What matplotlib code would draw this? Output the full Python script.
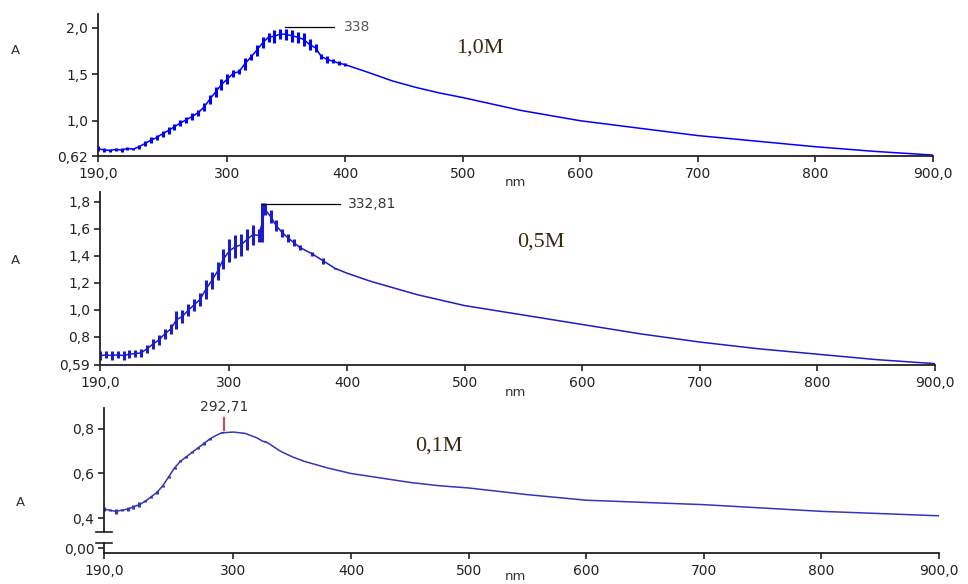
import numpy as np
import matplotlib.pyplot as plt

# ---- data (nm, lower / upper edge of the trace) ----
nm_1 = [190, 195, 200, 205, 210, 215, 220, 225, 230, 235, 240, 245, 250, 255,
        260, 265, 270, 275, 280, 285, 290, 295, 300, 305, 310, 315, 320, 325,
        330, 335, 340, 345, 350, 355, 360, 365, 370, 375, 380, 385, 390, 395,
        400, 420, 440, 460, 480, 500, 550, 600, 650, 700, 750, 800, 850, 900]
lo_1 = [0.67, 0.66, 0.66, 0.67, 0.66, 0.68, 0.68, 0.70, 0.73, 0.76, 0.79, 0.83,
        0.86, 0.90, 0.94, 0.98, 1.01, 1.05, 1.10, 1.18, 1.26, 1.33, 1.40, 1.47,
        1.50, 1.55, 1.65, 1.70, 1.78, 1.85, 1.84, 1.88, 1.87, 1.85, 1.84, 1.80,
        1.76, 1.74, 1.66, 1.62, 1.62, 1.60, 1.59, 1.52, 1.43, 1.36, 1.30, 1.25,
        1.11, 1.00, 0.92, 0.84, 0.78, 0.72, 0.67, 0.63]
hi_1 = [0.73, 0.71, 0.70, 0.71, 0.71, 0.72, 0.71, 0.74, 0.78, 0.82, 0.85, 0.89,
        0.93, 0.97, 1.01, 1.04, 1.08, 1.12, 1.19, 1.28, 1.36, 1.45, 1.50, 1.55,
        1.56, 1.68, 1.72, 1.82, 1.90, 1.95, 1.98, 1.99, 1.99, 1.98, 1.96, 1.95,
        1.88, 1.83, 1.72, 1.70, 1.66, 1.64, 1.62, 1.52, 1.43, 1.36, 1.30, 1.25,
        1.11, 1.00, 0.92, 0.84, 0.78, 0.72, 0.67, 0.63]

nm_2 = [190, 195, 200, 205, 210, 215, 220, 225, 230, 235, 240, 245, 250, 255,
        260, 265, 270, 275, 280, 285, 290, 295, 300, 305, 310, 315, 320, 325,
        328, 330, 335, 340, 345, 350, 355, 360, 370, 380, 390, 400, 420, 440,
        460, 480, 500, 550, 600, 650, 700, 750, 800, 850, 900]
lo_2 = [0.63, 0.64, 0.63, 0.64, 0.63, 0.64, 0.65, 0.65, 0.68, 0.71, 0.74, 0.78,
        0.82, 0.86, 0.90, 0.95, 0.99, 1.03, 1.08, 1.15, 1.22, 1.30, 1.35, 1.38,
        1.40, 1.44, 1.48, 1.50, 1.50, 1.70, 1.64, 1.58, 1.54, 1.50, 1.47, 1.44,
        1.40, 1.34, 1.30, 1.27, 1.21, 1.16, 1.11, 1.07, 1.03, 0.96, 0.89, 0.82,
        0.76, 0.71, 0.67, 0.63, 0.60]
hi_2 = [0.69, 0.69, 0.69, 0.69, 0.69, 0.70, 0.70, 0.71, 0.74, 0.78, 0.81, 0.86,
        0.89, 0.99, 1.00, 1.04, 1.08, 1.12, 1.22, 1.28, 1.35, 1.45, 1.52, 1.55,
        1.56, 1.60, 1.63, 1.60, 1.79, 1.79, 1.74, 1.66, 1.60, 1.56, 1.52, 1.48,
        1.43, 1.38, 1.31, 1.27, 1.21, 1.16, 1.11, 1.07, 1.03, 0.96, 0.89, 0.82,
        0.76, 0.71, 0.67, 0.63, 0.60]

nm_3 = [190, 195, 200, 205, 210, 215, 220, 225, 230, 235, 240, 245, 250, 255,
        260, 265, 270, 275, 280, 285, 290, 300, 310, 320, 325, 327, 330, 340,
        350, 360, 380, 400, 425, 450, 475, 500, 550, 600, 650, 700, 750, 800,
        850, 900]
lo_3 = [0.43, 0.43, 0.42, 0.43, 0.43, 0.44, 0.45, 0.47, 0.49, 0.51, 0.54, 0.58,
        0.62, 0.65, 0.67, 0.69, 0.71, 0.73, 0.75, 0.77, 0.78, 0.786, 0.78, 0.76,
        0.745, 0.74, 0.735, 0.70, 0.675, 0.655, 0.625, 0.60, 0.58, 0.56, 0.545,
        0.535, 0.505, 0.48, 0.47, 0.46, 0.445, 0.43, 0.42, 0.41]
hi_3 = [0.45, 0.44, 0.44, 0.44, 0.45, 0.46, 0.47, 0.48, 0.50, 0.52, 0.55, 0.59,
        0.63, 0.66, 0.68, 0.70, 0.72, 0.74, 0.76, 0.77, 0.785, 0.786, 0.78, 0.76,
        0.745, 0.745, 0.735, 0.70, 0.675, 0.655, 0.625, 0.60, 0.58, 0.56, 0.545,
        0.535, 0.505, 0.48, 0.47, 0.46, 0.445, 0.43, 0.42, 0.41]

x_ticks = [190, 300, 400, 500, 600, 700, 800, 900]
x_labels = ['190,0', '300', '400', '500', '600', '700', '800', '900,0']

y_ticks_1 = [0.62, 1.0, 1.5, 2.0]
y_labels_1 = ['0,62', '1,0', '1,5', '2,0']
y_ticks_2 = [0.59, 0.8, 1.0, 1.2, 1.4, 1.6, 1.8]
y_labels_2 = ['0,59', '0,8', '1,0', '1,2', '1,4', '1,6', '1,8']
y_ticks_3 = [0.265, 0.4, 0.6, 0.8]      # first tick stands for 0,00 below the axis break
y_labels_3 = ['0,00', '0,4', '0,6', '0,8']

W, H = 968, 584
fig = plt.figure(figsize=(W / 100, H / 100), dpi=100)


def px_axes(left, top, right, bottom):
    return fig.add_axes([left / W, 1 - bottom / H, (right - left) / W, (bottom - top) / H])


def style(ax, ylim, yt, yl):
    ax.set_xlim(190, 900)
    ax.set_ylim(*ylim)
    ax.set_xticks(x_ticks, x_labels)
    ax.set_yticks(yt, yl)
    for s in ['top', 'right']:
        ax.spines[s].set_visible(False)
    for s in ['left', 'bottom']:
        ax.spines[s].set_color('#222222')
        ax.spines[s].set_linewidth(1.3)
    ax.tick_params(direction='out', length=4, width=1.2, colors='#222222',
                   labelsize=10, pad=3)
    ax.tick_params(axis='x', pad=4)


def trace(ax, nm, lo, hi, color):
    mid = (np.array(lo) + np.array(hi)) / 2
    ax.plot(nm, mid, color=color, lw=1.1)
    ax.vlines(nm, lo, hi, color=color, lw=2.2)


# ---- 1,0M ----
ax1 = px_axes(98, 14, 933, 156)
style(ax1, (0.62, 2.15), y_ticks_1, y_labels_1)
trace(ax1, nm_1, lo_1, hi_1, '#0000ff')
ax1.plot([349, 391], [2.01, 2.01], color='black', lw=0.9)
ax1.text(399, 2.01, '338', fontsize=10, color='#555555', va='center')
ax1.text(515, 1.78, '1,0M', fontsize=16, family='Liberation Serif',
         color='#3a2a10', ha='center', va='center')

# ---- 0,5M ----
ax2 = px_axes(100, 192, 935, 365)
style(ax2, (0.59, 1.871), y_ticks_2, y_labels_2)
trace(ax2, nm_2, lo_2, hi_2, '#1c1cc8')
ax2.plot([328, 394], [1.785, 1.785], color='black', lw=0.9)
ax2.text(401, 1.785, '332,81', fontsize=10, color='#333333', va='center')
ax2.text(565, 1.50, '0,5M', fontsize=16, family='Liberation Serif',
         color='#3a2a10', ha='center', va='center')

# ---- 0,1M (broken y axis) ----
ax3 = px_axes(104, 408, 939, 553)
style(ax3, (0.243, 0.894), y_ticks_3, y_labels_3)
trace(ax3, nm_3, lo_3, hi_3, '#3535b8')
ax3.spines['left'].set_bounds(0.337, 0.894)
yt = ax3.get_yaxis_transform()
ax3.plot([0, 0], [0.243, 0.288], color='#222222', lw=1.3, transform=yt, clip_on=False)
ax3.plot([-0.009, 0.009], [0.337, 0.337], color='#222222', lw=1.2, transform=yt, clip_on=False)
ax3.plot([-0.009, 0.009], [0.288, 0.288], color='#222222', lw=1.2, transform=yt, clip_on=False)
ax3.plot([292, 292], [0.797, 0.85], color='#c05050', lw=1.6)
ax3.text(292, 0.865, '292,71', fontsize=10, color='#333333', ha='center', va='bottom')
ax3.text(475, 0.725, '0,1M', fontsize=16, family='Liberation Serif',
         color='#3a2a10', ha='center', va='center')

# axis titles
for (x, y) in [(15, 50), (15, 261), (20, 502)]:
    fig.text(x / W, 1 - y / H, 'A', fontsize=9.5, color='#333333', ha='center', va='center')
for y in [183, 392, 576]:
    fig.text(515 / W, 1 - y / H, 'nm', fontsize=9.5, color='#333333', ha='center', va='center')

fig.savefig('out.png', dpi=100)
